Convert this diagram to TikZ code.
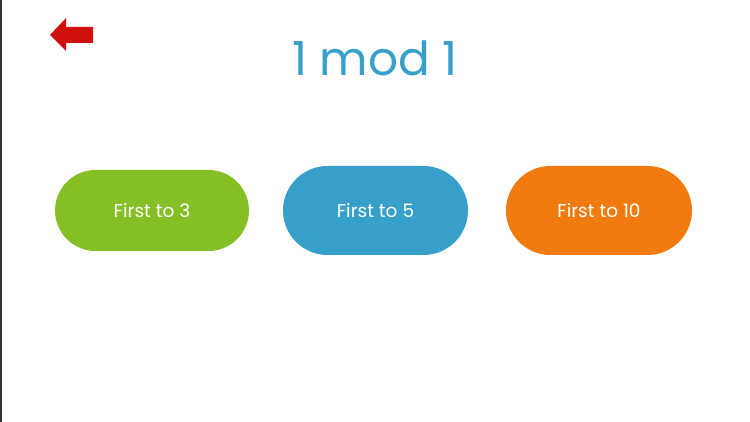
\documentclass[tikz,border=0pt]{standalone}
\usepackage{fontspec}
\setmainfont{Poppins}
\definecolor{cgreen}{HTML}{86BE26}
\definecolor{cblue}{HTML}{36A0CB}
\definecolor{corange}{HTML}{F27B0F}
\definecolor{cred}{HTML}{D0100C}
\begin{document}
\begin{tikzpicture}[x=1pt,y=-1pt,
  btn/.style={rectangle, text=white, font=\fontsize{18.5}{20}\selectfont, inner sep=0pt},
]
\fill[white] (0,0) rectangle (750,422);
\useasboundingbox (0,0) rectangle (750,422);
\draw[line width=1.5pt, black!80] (0.75,0) -- (0.75,422);
\fill[cred] (50,35) -- (66,18) -- (66,27) -- (93,27) -- (93,43) -- (66,43) -- (66,51) -- cycle;
\node[text=cblue, font=\fontsize{47}{50}\selectfont] (title) at (375,58) {1 mod 1};
\node[btn, fill=cgreen, rounded corners=40.5pt, minimum width=194pt, minimum height=81pt] (b1) at (152,210.5) {First to 3};
\node[btn, fill=cblue, rounded corners=44.5pt, minimum width=185pt, minimum height=89pt] (b2) at (375.5,210.5) {First to 5};
\node[btn, fill=corange, rounded corners=44.5pt, minimum width=186pt, minimum height=89pt] (b3) at (599,210.5) {First to 10};
\end{tikzpicture}
\end{document}
